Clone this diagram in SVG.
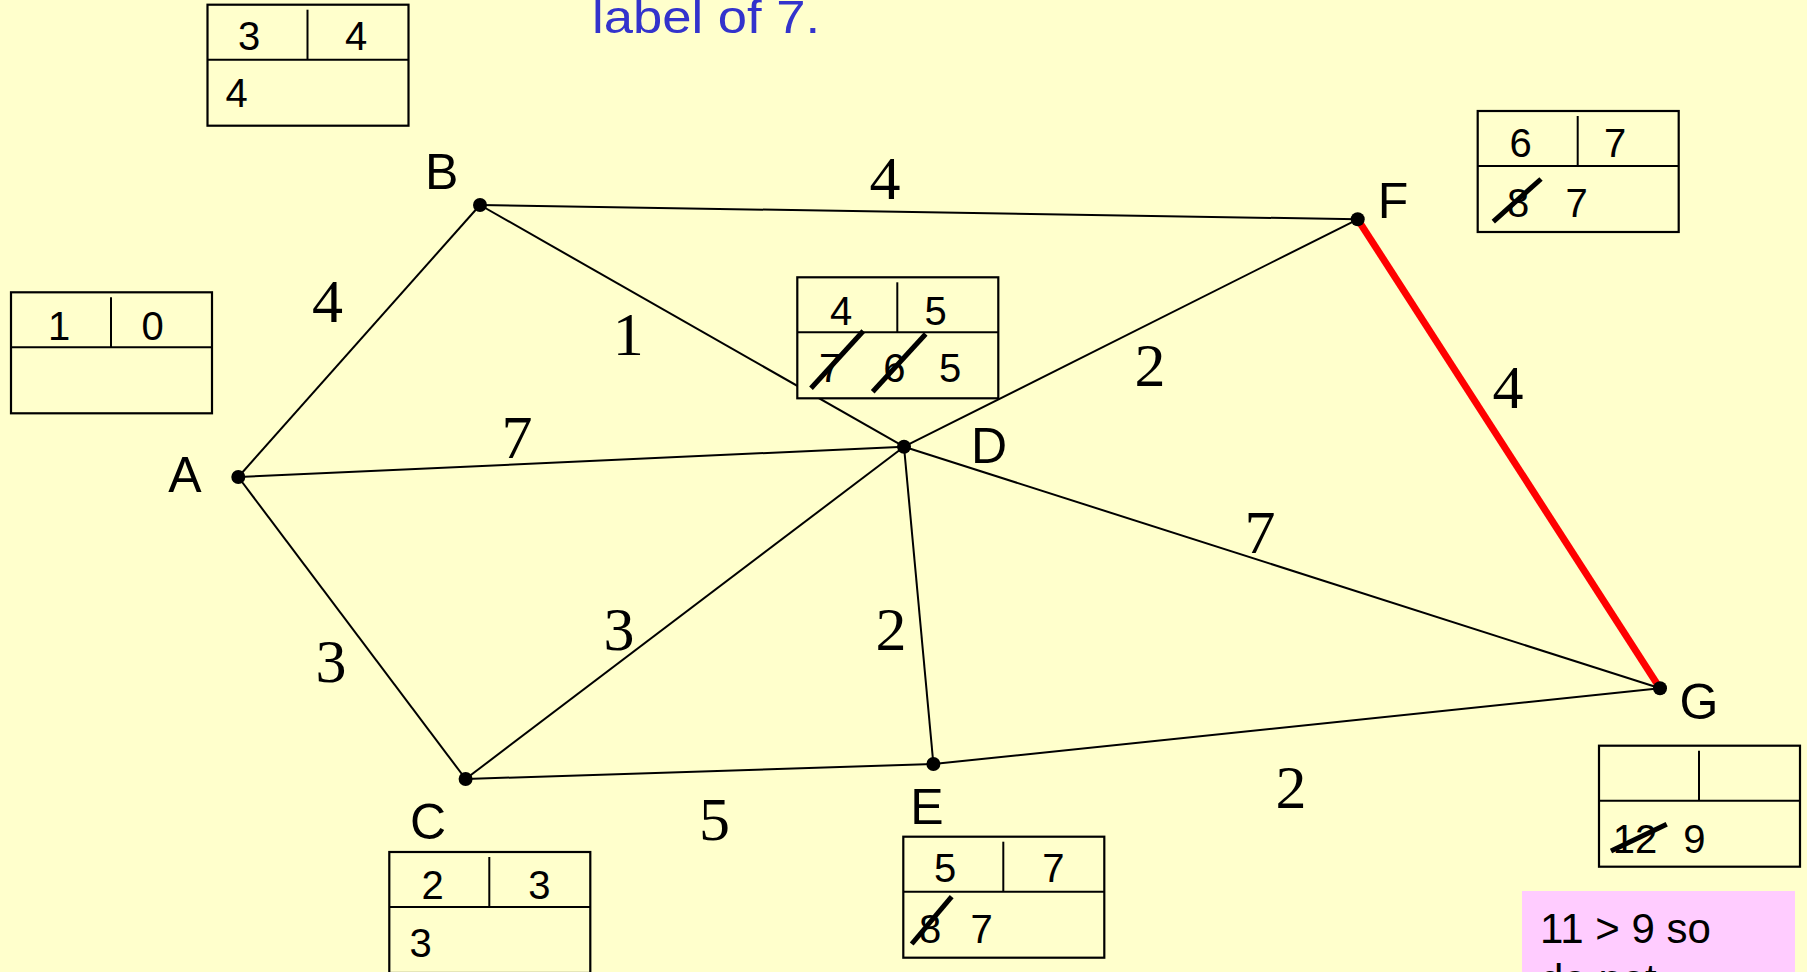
<svg xmlns="http://www.w3.org/2000/svg" width="1807" height="972" viewBox="0 0 1807 972">
<style>
.edge{stroke:#000;stroke-width:2;fill:none}
.hot{stroke:#FF0000;stroke-width:7;fill:none}
.w{font-family:"Liberation Serif","Times New Roman",serif;font-size:62px;fill:#000;text-anchor:middle}
.nl{font-family:"Liberation Sans",Arial,sans-serif;font-size:50px;fill:#000;text-anchor:middle}
.bt{font-family:"Liberation Sans",Arial,sans-serif;font-size:40px;fill:#000;text-anchor:middle}
.frame{fill:#FFFFCC;stroke:#000;stroke-width:2.2}
.div{stroke:#000;stroke-width:2}
.strike{stroke:#000;stroke-width:5}
.dot{fill:#000}
</style>
<defs>
<g id="box">
<rect class="frame" x="0" y="0" width="201" height="121"/>
<line class="div" x1="0" y1="55" x2="201" y2="55"/>
<line class="div" x1="100" y1="5" x2="100" y2="55"/>
</g>
</defs>
<rect x="0" y="0" width="1807" height="972" fill="#FFFFCC"/>
<text x="592" y="33" font-family="Liberation Sans,Arial,sans-serif" font-size="47" fill="#3333CC" textLength="228" lengthAdjust="spacingAndGlyphs">label of 7.</text>
<g id="connectors">
<g id="e-AB"><line class="edge" x1="238.3" y1="477" x2="480" y2="205"/><text class="w" x="327.5" y="321.7">4</text></g>
<g id="e-AD"><line class="edge" x1="238.3" y1="477" x2="904" y2="446.7"/><text class="w" x="517" y="458">7</text></g>
<g id="e-AC"><line class="edge" x1="238.3" y1="477" x2="465.6" y2="779"/><text class="w" x="331" y="682">3</text></g>
<g id="e-BF"><line class="edge" x1="480" y1="205" x2="1357.7" y2="219.3"/><text class="w" x="885" y="199">4</text></g>
<g id="e-BD"><line class="edge" x1="480" y1="205" x2="904" y2="446.7"/><text class="w" x="628.3" y="355">1</text></g>
<g id="e-CD"><line class="edge" x1="465.6" y1="779" x2="904" y2="446.7"/><text class="w" x="619" y="650">3</text></g>
<g id="e-CE"><line class="edge" x1="465.6" y1="779" x2="933.4" y2="764"/><text class="w" x="714.5" y="840">5</text></g>
<g id="e-DF"><line class="edge" x1="904" y1="446.7" x2="1357.7" y2="219.3"/><text class="w" x="1150" y="386">2</text></g>
<g id="e-DE"><line class="edge" x1="904" y1="446.7" x2="933.4" y2="764"/><text class="w" x="891" y="650">2</text></g>
<g id="e-DG"><line class="edge" x1="904" y1="446.7" x2="1660" y2="688.3"/><text class="w" x="1260" y="553">7</text></g>
<g id="e-EG"><line class="edge" x1="933.4" y1="764" x2="1660" y2="688.3"/><text class="w" x="1291" y="808">2</text></g>
<g id="e-FG"><line class="hot" x1="1357.7" y1="219.3" x2="1660" y2="688.3"/><text class="w" x="1508" y="407.7">4</text></g>
</g>
<g id="node-A">
<circle class="dot" cx="238.3" cy="477" r="7"/>
<text class="nl" x="185" y="492">A</text>
<use href="#box" x="11" y="292.3"/>
<text class="bt" x="59" y="340">1</text>
<text class="bt" x="152.7" y="340">0</text>
</g>
<g id="node-B">
<circle class="dot" cx="480" cy="205" r="7"/>
<text class="nl" x="441.7" y="189">B</text>
<use href="#box" x="207.5" y="4.7"/>
<text class="bt" x="249" y="50">3</text>
<text class="bt" x="356" y="50">4</text>
<text class="bt" x="236.5" y="107">4</text>
</g>
<g id="node-C">
<circle class="dot" cx="465.6" cy="779" r="7"/>
<text class="nl" x="428" y="839">C</text>
<use href="#box" x="389.3" y="852"/>
<text class="bt" x="432.7" y="899">2</text>
<text class="bt" x="539.3" y="899">3</text>
<text class="bt" x="420.7" y="956.7">3</text>
</g>
<g id="node-D">
<circle class="dot" cx="904" cy="446.7" r="7"/>
<text class="nl" x="989" y="463">D</text>
<use href="#box" x="797.3" y="277.3"/>
<text class="bt" x="841" y="325">4</text>
<text class="bt" x="935.7" y="325">5</text>
<text class="bt" x="830" y="381.7">7</text>
<text class="bt" x="894.3" y="381.7">6</text>
<text class="bt" x="950" y="381.7">5</text>
<line class="strike" x1="811" y1="388.3" x2="863.3" y2="331"/>
<line class="strike" x1="872.7" y1="391.7" x2="925.7" y2="334"/>
</g>
<g id="node-E">
<circle class="dot" cx="933.4" cy="764" r="7"/>
<text class="nl" x="927" y="824">E</text>
<use href="#box" x="903.3" y="836.7"/>
<text class="bt" x="945" y="881.7">5</text>
<text class="bt" x="1053.3" y="881.7">7</text>
<text class="bt" x="930" y="942.7">8</text>
<text class="bt" x="981.7" y="942.7">7</text>
<line class="strike" x1="911.7" y1="944" x2="951.7" y2="896.7"/>
</g>
<g id="node-F">
<circle class="dot" cx="1357.7" cy="219.3" r="7"/>
<text class="nl" x="1393" y="218.3">F</text>
<use href="#box" x="1477.7" y="111"/>
<text class="bt" x="1520.7" y="156.7">6</text>
<text class="bt" x="1615" y="156.7">7</text>
<text class="bt" x="1518" y="217.3">8</text>
<text class="bt" x="1576.7" y="217.3">7</text>
<line class="strike" x1="1493.3" y1="221.7" x2="1541" y2="179"/>
</g>
<g id="node-G">
<circle class="dot" cx="1660" cy="688.3" r="7"/>
<text class="nl" x="1699" y="719">G</text>
<use href="#box" x="1599" y="745.7"/>
<text class="bt" x="1635" y="852.7">12</text>
<text class="bt" x="1694.3" y="852.7">9</text>
<line class="strike" x1="1611" y1="851" x2="1666.7" y2="824.3"/>
</g>
<g id="note">
<rect x="1522" y="891" width="273" height="90" fill="#FFCCFF"/>
<text x="1540" y="942.7" font-family="Liberation Sans,Arial,sans-serif" font-size="42" fill="#000">11 &gt; 9 so</text>
<text x="1540" y="994" font-family="Liberation Sans,Arial,sans-serif" font-size="42" fill="#000">do not</text>
</g>
</svg>
